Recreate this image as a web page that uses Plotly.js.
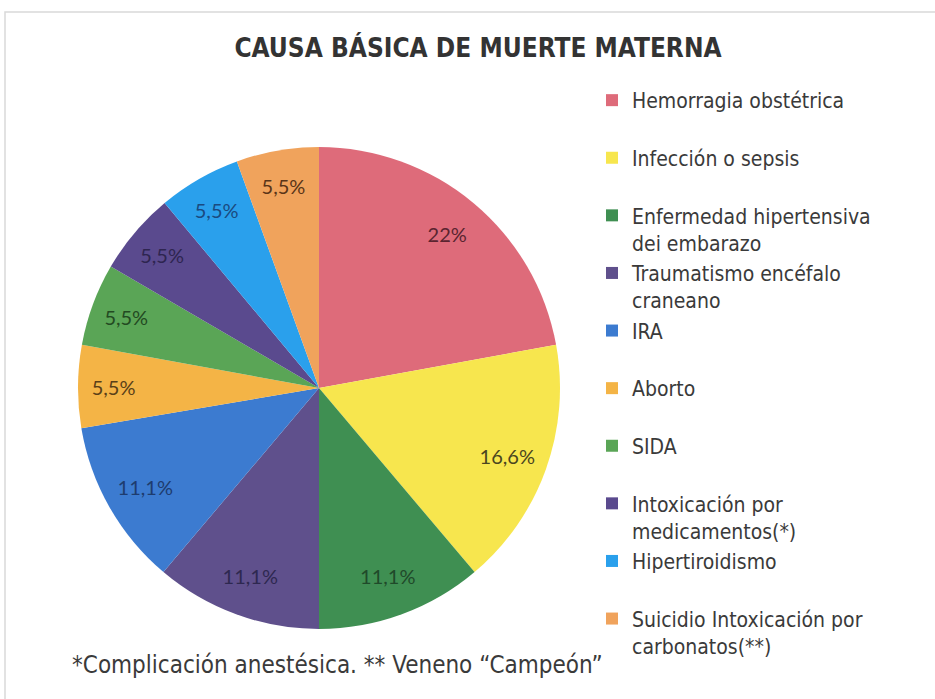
<!DOCTYPE html>
<html>
<head>
<meta charset="utf-8">
<script src="https://cdn.plot.ly/plotly-3.0.1.min.js"></script>
<style>html,body{margin:0;padding:0;background:#fff;}#chart{width:935px;height:699px;}</style>
</head>
<body>
<div id="chart"></div>
<script>
const categories = [
  "Hemorragia obstétrica",
  "Infección o sepsis",
  "Enfermedad hipertensiva<br>dei embarazo",
  "Traumatismo encéfalo<br>craneano",
  "IRA",
  "Aborto",
  "SIDA",
  "Intoxicación por<br>medicamentos(*)",
  "Hipertiroidismo",
  "Suicidio Intoxicación por<br>carbonatos(**)"
];
const values = [22, 16.6, 11.1, 11.1, 11.1, 5.5, 5.5, 5.5, 5.5, 5.5];
const valueLabels = ["22%", "16,6%", "11,1%", "11,1%", "11,1%", "5,5%", "5,5%", "5,5%", "5,5%", "5,5%"];
const sliceColors = ["#de6b7a", "#f7e64e", "#3f8f52", "#5f508c", "#3c7bd0", "#f4b446", "#5aa556", "#5a4a8e", "#2aa0ec", "#f0a35c"];
const labelColors = ["#5a2430", "#4a4520", "#1f4a2a", "#2e2850", "#1e3c6e", "#5a4018", "#234a22", "#2e2550", "#1a4a80", "#5a3518"];
const titleText = "CAUSA BÁSICA DE MUERTE MATERNA";
const footnote = "*Complicación anestésica. ** Veneno “Campeón”";

const W = 935, H = 699;
const cx = 319, cy = 388, R = 241;
const dom = {x: [(cx - R) / W, (cx + R) / W], y: [(H - cy - R) / H, (H - cy + R) / H]};
const narrow = "'DejaVu Sans Condensed', 'Liberation Sans Narrow', sans-serif";

// pad single-line legend entries to two lines so every entry has same height
const legendLabels = categories.map(c => c.includes("<br>") ? c : c + "<br>\u00a0");

const basePie = {
  type: "pie",
  labels: legendLabels,
  values: values,
  sort: false,
  direction: "clockwise",
  rotation: 0,
  domain: dom,
  marker: {colors: sliceColors, line: {width: 0}},
  textinfo: "none",
  hoverinfo: "label+text",
  showlegend: true
};
const labelRing = {
  type: "pie",
  labels: legendLabels,
  values: values,
  sort: false,
  direction: "clockwise",
  rotation: 0,
  hole: 0.66,
  domain: dom,
  marker: {colors: sliceColors.map(() => "rgba(0,0,0,0)"), line: {width: 0}},
  text: valueLabels,
  textinfo: "text",
  textposition: "inside",
  insidetextorientation: "horizontal",
  insidetextfont: {family: "Lato, 'DejaVu Sans', sans-serif", size: 20, color: labelColors},
  hoverinfo: "skip",
  showlegend: false
};

const layout = {
  width: W, height: H,
  margin: {l: 0, r: 0, t: 0, b: 0},
  paper_bgcolor: "#ffffff",
  title: {
    text: "<b>" + titleText + "</b>",
    x: 478 / W, xanchor: "center", y: 1 - 48 / H, yanchor: "middle",
    font: {family: narrow, size: 26, color: "#333333"}
  },
  legend: {
    x: 592 / W, xanchor: "left",
    y: 1 - 80 / H, yanchor: "top",
    valign: "top",
    traceorder: "normal",
    font: {family: narrow, size: 21, color: "#3a3a3a"},
    bgcolor: "rgba(0,0,0,0)"
  },
  shapes: [{
    type: "rect", xref: "paper", yref: "paper",
    x0: 5 / W, x1: 1.02, y0: -0.02, y1: 1 - 12 / H,
    line: {color: "#d9d9d9", width: 1.5}, fillcolor: "rgba(0,0,0,0)"
  }],
  annotations: [{
    text: footnote, xref: "paper", yref: "paper",
    x: 70 / W, xanchor: "left", y: 1 - 665 / H, yanchor: "middle",
    showarrow: false,
    font: {family: narrow, size: 24, color: "#3a3a3a"}
  }]
};

Plotly.newPlot("chart", [basePie, labelRing], layout, {displayModeBar: false, staticPlot: true});
</script>
</body>
</html>
